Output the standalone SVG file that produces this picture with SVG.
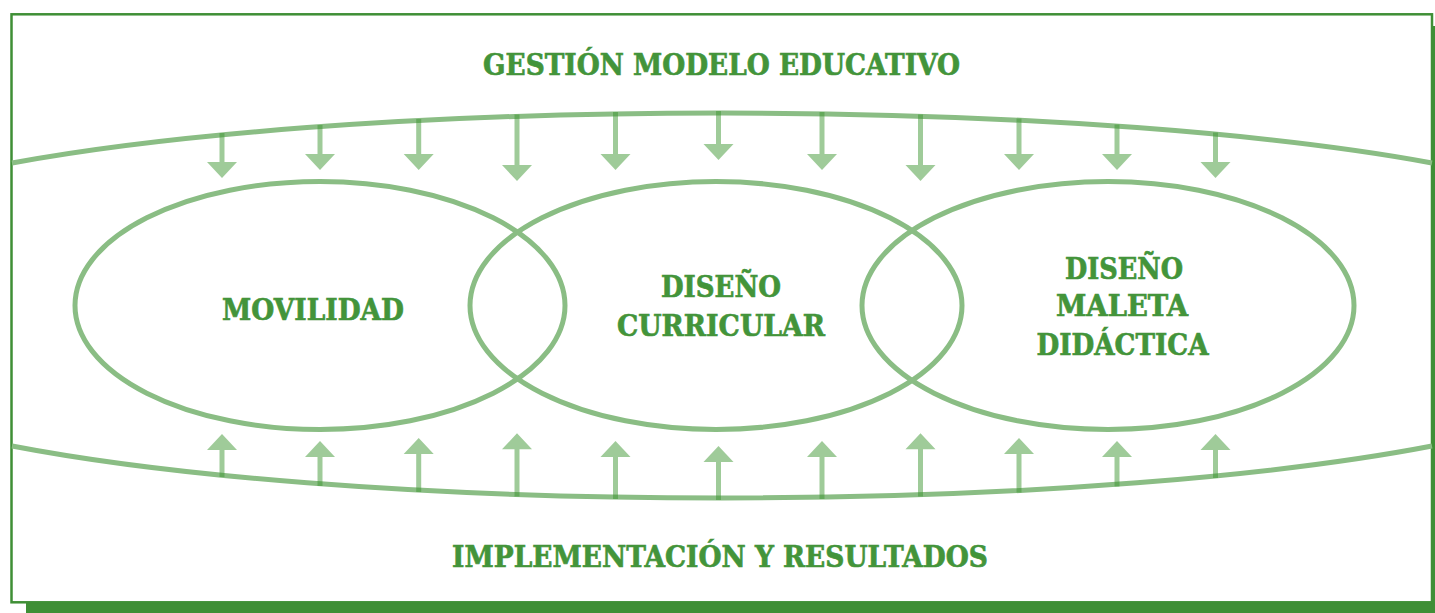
<svg xmlns="http://www.w3.org/2000/svg" width="1435" height="613" viewBox="0 0 1435 613">
  <style>
    .lbl { font-family: "DejaVu Serif", "Liberation Serif", serif; font-weight: bold; font-size: 30px; fill: #43943a; stroke: #43943a; stroke-width: 0.7; text-anchor: middle; }
    .band { fill: none; stroke: #8abd84; stroke-width: 5; }
    .node { fill: none; stroke: #8abd84; stroke-width: 5; }
    .arr { fill: #3c942e; fill-opacity: 0.49; stroke: none; }
  </style>
  <rect x="26" y="26" width="1415" height="587" fill="#3f8f36"/>
  <rect x="11.5" y="14.3" width="1420.5" height="588" fill="#ffffff" stroke="#3f8f36" stroke-width="2.5"/>

  <g id="gestion">
    <path class="band" d="M 12 163 A 900 129.7 0 0 1 1432 163"/>
    <text class="lbl" x="721.5" y="75" textLength="477" lengthAdjust="spacingAndGlyphs">GESTIÓN MODELO EDUCATIVO</text>
  </g>

  <g id="implementacion">
    <path class="band" d="M 12 446 A 900 134.9 0 0 0 1432 446"/>
    <text class="lbl" x="720" y="567" textLength="536" lengthAdjust="spacingAndGlyphs">IMPLEMENTACIÓN Y RESULTADOS</text>
  </g>

  <g id="movilidad">
    <ellipse class="node" cx="320" cy="305.5" rx="245" ry="124"/>
    <text class="lbl" x="313" y="320" textLength="182" lengthAdjust="spacingAndGlyphs">MOVILIDAD</text>
  </g>

  <g id="diseno-curricular">
    <ellipse class="node" cx="716" cy="305.5" rx="246" ry="124"/>
    <text class="lbl" x="721" y="297" textLength="120" lengthAdjust="spacingAndGlyphs">DISEÑO</text>
    <text class="lbl" x="721" y="336" textLength="208" lengthAdjust="spacingAndGlyphs">CURRICULAR</text>
  </g>

  <g id="diseno-maleta">
    <ellipse class="node" cx="1108" cy="305.5" rx="246" ry="124"/>
    <text class="lbl" x="1124" y="279" textLength="118" lengthAdjust="spacingAndGlyphs">DISEÑO</text>
    <text class="lbl" x="1122" y="316" textLength="132" lengthAdjust="spacingAndGlyphs">MALETA</text>
    <text class="lbl" x="1122.5" y="355" textLength="172" lengthAdjust="spacingAndGlyphs">DIDÁCTICA</text>
  </g>

  <g id="connectors">
    <!-- down arrows from top band -->
    <path class="arr" d="M 219.5 133 H 224.5 V 162 H 237 L 222 178 L 207 162 H 219.5 Z"/>
    <path class="arr" d="M 317.5 125 H 322.5 V 154 H 335 L 320 170 L 305 154 H 317.5 Z"/>
    <path class="arr" d="M 416.2 119 H 421.2 V 154 H 433.7 L 418.7 170 L 403.7 154 H 416.2 Z"/>
    <path class="arr" d="M 514.5 114.5 H 519.5 V 165 H 532 L 517 181 L 502 165 H 514.5 Z"/>
    <path class="arr" d="M 613 112 H 618 V 154 H 630.5 L 615.5 170 L 600.5 154 H 613 Z"/>
    <path class="arr" d="M 716 111 H 721 V 144 H 733.5 L 718.5 160 L 703.5 144 H 716 Z"/>
    <path class="arr" d="M 819.5 112 H 824.5 V 154 H 837 L 822 170 L 807 154 H 819.5 Z"/>
    <path class="arr" d="M 918 114.5 H 923 V 165 H 935.5 L 920.5 181 L 905.5 165 H 918 Z"/>
    <path class="arr" d="M 1016.5 118.5 H 1021.5 V 154 H 1034 L 1019 170 L 1004 154 H 1016.5 Z"/>
    <path class="arr" d="M 1114.5 124.5 H 1119.5 V 154 H 1132 L 1117 170 L 1102 154 H 1114.5 Z"/>
    <path class="arr" d="M 1213 132.5 H 1218 V 162 H 1230.5 L 1215.5 178 L 1200.5 162 H 1213 Z"/>
    <!-- up arrows from bottom band -->
    <path class="arr" d="M 219.5 477 H 224.5 V 450 H 237 L 222 434 L 207 450 H 219.5 Z"/>
    <path class="arr" d="M 317.5 486 H 322.5 V 457 H 335 L 320 441 L 305 457 H 317.5 Z"/>
    <path class="arr" d="M 416.2 492 H 421.2 V 454 H 433.7 L 418.7 438 L 403.7 454 H 416.2 Z"/>
    <path class="arr" d="M 514.5 496.5 H 519.5 V 449.3 H 532 L 517 433.3 L 502 449.3 H 514.5 Z"/>
    <path class="arr" d="M 613 499 H 618 V 457 H 630.5 L 615.5 441 L 600.5 457 H 613 Z"/>
    <path class="arr" d="M 716 500 H 721 V 462 H 733.5 L 718.5 446 L 703.5 462 H 716 Z"/>
    <path class="arr" d="M 819.5 499 H 824.5 V 457 H 837 L 822 441 L 807 457 H 819.5 Z"/>
    <path class="arr" d="M 918 496.5 H 923 V 449.3 H 935.5 L 920.5 433.3 L 905.5 449.3 H 918 Z"/>
    <path class="arr" d="M 1016.5 492.5 H 1021.5 V 454 H 1034 L 1019 438 L 1004 454 H 1016.5 Z"/>
    <path class="arr" d="M 1114.5 486.5 H 1119.5 V 457 H 1132 L 1117 441 L 1102 457 H 1114.5 Z"/>
    <path class="arr" d="M 1213 478 H 1218 V 450 H 1230.5 L 1215.5 434 L 1200.5 450 H 1213 Z"/>
  </g>
</svg>
